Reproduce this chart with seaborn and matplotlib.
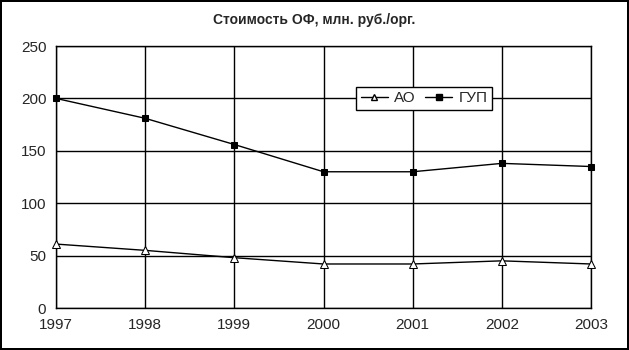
import matplotlib
matplotlib.use("Agg")
import matplotlib.pyplot as plt
import seaborn as sns
import pandas as pd
from matplotlib.lines import Line2D

years = [1997, 1998, 1999, 2000, 2001, 2002, 2003]
ao = [61, 55, 48, 42, 42, 45, 42]
gup = [200, 181, 156, 130, 130, 138, 135]
series_names = ["АО", "ГУП"]
title = "Стоимость ОФ, млн. руб./орг."

sns.set_style("white")
plt.rcParams['font.family'] = ['Liberation Sans', 'DejaVu Sans']

df = pd.DataFrame({"year": years * 2,
                   "value": ao + gup,
                   "series": [series_names[0]] * len(years) + [series_names[1]] * len(years)})

fig = plt.figure(figsize=(6.29, 3.5), dpi=100)
fig.patch.set_edgecolor("black")
fig.patch.set_linewidth(1.5)
ax = fig.add_axes([56/629, 1-308/350, (591-56)/629, (308-46)/350])

sns.lineplot(data=df, x="year", y="value", hue="series", style="series",
             markers={"АО": "^", "ГУП": "s"}, dashes=False,
             palette={"АО": "black", "ГУП": "black"}, linewidth=1,
             markersize=6, ax=ax, legend=False)
for line, fc in zip(ax.lines, ["white", "black"]):
    line.set_markerfacecolor(fc)
    line.set_markeredgecolor("black")
    line.set_clip_on(False)
    line.set_zorder(5)
ax.lines[0].set_markersize(6)
ax.lines[1].set_markersize(5)

ax.set_xlim(1997, 2003)
ax.set_ylim(0, 250)
ax.set_xticks(years)
ax.set_yticks([0, 50, 100, 150, 200, 250])
ax.grid(True, color="black", linewidth=1)
ax.set_xlabel("")
ax.set_ylabel("")
for s in ax.spines.values():
    s.set_color("black")
    s.set_linewidth(1)
ax.tick_params(axis="both", direction="out", length=4, color="black", labelsize=11, pad=3)

handles = [Line2D([], [], color="black", lw=1, marker="^", mfc="white", mec="black", ms=5),
           Line2D([], [], color="black", lw=1, marker="s", mfc="black", mec="black", ms=5)]
leg = ax.legend(handles, series_names, loc="center", bbox_to_anchor=(0.688, 0.80),
                ncol=2, frameon=True, fancybox=False, edgecolor="black", fontsize=11,
                handlelength=1.8, columnspacing=0.6, handletextpad=0.4,
                borderpad=0.3)
leg.get_frame().set_linewidth(1)
leg.get_frame().set_alpha(1)
leg.set_zorder(10)

fig.suptitle(title, y=1-20/350, fontsize=10, fontweight="bold", va="center")
fig.savefig("out.png", dpi=100, edgecolor=fig.get_edgecolor())
